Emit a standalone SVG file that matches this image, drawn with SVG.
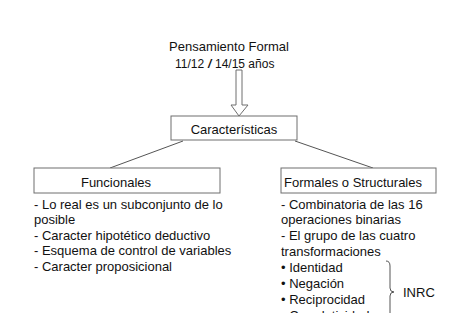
<svg xmlns="http://www.w3.org/2000/svg" width="465" height="313" viewBox="0 0 465 313">
<style>
text{font-family:"Liberation Sans",Arial,sans-serif;font-size:13px;fill:#111}
.sm{font-size:12px}
.box{fill:#fff;stroke:#6e6e6e;stroke-width:1}
.ln{fill:none;stroke:#555;stroke-width:1}
.c{text-anchor:middle}
</style>
<rect width="465" height="313" fill="#fff"/>
<g id="connectors">
<path class="ln" d="M183,141 L110,168"/>
<path class="ln" d="M295,141 L373,168"/>
<path id="arrow" class="box" d="M236,70 L242,70 L242,105 L248,105 L239,116 L231,105 L236,105 Z"/>
</g>
<g id="title">
<text class="c" x="229" y="51">Pensamiento Formal</text>
<text class="sm" x="175" y="68">11/12</text>
<text class="sm" x="208" y="68" font-weight="bold" font-style="italic">/</text>
<text class="sm" x="215" y="68">14/15 años</text>
</g>
<g id="caracteristicas">
<rect class="box" x="171" y="116" width="126" height="24"/>
<text class="c" x="234" y="134">Características</text>
</g>
<g id="funcionales">
<rect class="box" x="34" y="168" width="186" height="25"/>
<text class="c" x="116" y="187">Funcionales</text>
<text x="34" y="209">- Lo real es un subconjunto de lo</text>
<text x="34" y="224">posible</text>
<text x="34" y="240">- Caracter hipotético deductivo</text>
<text x="34" y="255">- Esquema de control de variables</text>
<text x="34" y="271">- Caracter proposicional</text>
</g>
<g id="formales">
<rect class="box" x="281" y="168" width="155" height="25"/>
<text x="284" y="187">Formales o Structurales</text>
<text x="281" y="209">- Combinatoria de las 16</text>
<text x="281" y="224">operaciones binarias</text>
<text x="281" y="240">- El grupo de las cuatro</text>
<text x="281" y="256">transformaciones</text>
<text x="281" y="272">• Identidad</text>
<text x="281" y="288">• Negación</text>
<text x="281" y="304">• Reciprocidad</text>
<text x="281" y="320">• Correlatividad</text>
</g>
<g id="inrc">
<path class="ln" d="M386,261 Q390,261 390,266 L390,288 Q390,292 394,292 Q390,292 390,296 L390,313"/>
<text x="403" y="297">INRC</text>
</g>
</svg>
